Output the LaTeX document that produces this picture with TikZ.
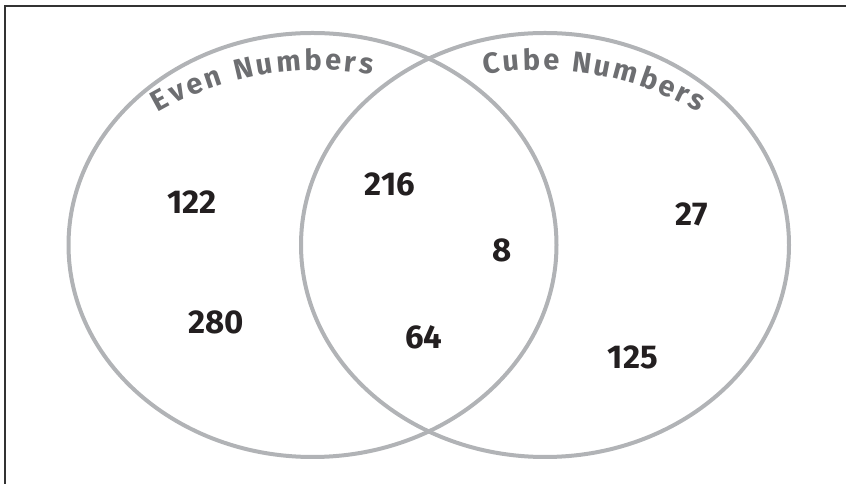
\documentclass[tikz,border=0pt]{standalone}
\usepackage{fontspec}
\setmainfont{Fira Sans}
\usetikzlibrary{decorations.text}
\definecolor{ringgray}{HTML}{B1B3B6}
\definecolor{labelgray}{HTML}{6D6E71}
\definecolor{numblack}{HTML}{231F20}

\begin{document}
\begin{tikzpicture}[x=1pt, y=1pt,
  ring/.style={draw=ringgray, line width=4pt},
  num/.style={font=\fontsize{33}{33}\selectfont\bfseries, text=numblack, inner sep=0pt},
  setlabel/.style={decorate, decoration={text along path, text align=fit to path, text color=labelgray}}]
\useasboundingbox (0,0) rectangle (846,484);
\clip (0,0) rectangle (846,484);
\draw[line width=2pt, draw=black!80] (5,-20) rectangle (870,478);
% the two sets
\draw[ring] (312.5,239) ellipse [x radius=244, y radius=212];
\draw[ring] (545,239) ellipse [x radius=244, y radius=212];
% set names along the rims
\path[setlabel, decoration={text={|\fontsize{29}{29}\selectfont\bfseries|Even Numbers}}]
  (317,96) ++(120:318) arc[start angle=120, end angle=80, radius=318];
\path[setlabel, decoration={text={|\fontsize{29}{29}\selectfont\bfseries|Cube Numbers}}]
  (540,96) ++(100:318) arc[start angle=100, end angle=60, radius=318];
% members
\node[num] (n122) at (192,282) {122};
\node[num] (n280) at (216,162) {280};
\node[num] (n216) at (390,300) {216};
\node[num] (n64) at (424,147) {64};
\node[num] (n8) at (502,234) {8};
\node[num] (n27) at (692,270) {27};
\node[num] (n125) at (633,127) {125};
\end{tikzpicture}
\end{document}
